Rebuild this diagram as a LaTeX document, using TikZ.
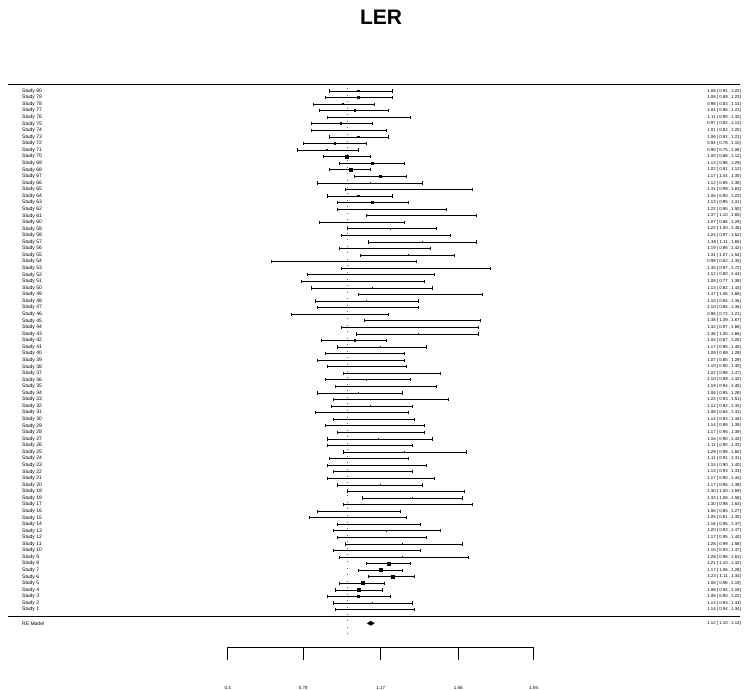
\documentclass[tikz,border=0pt]{standalone}
\usepackage{fontspec}
\setmainfont{Liberation Sans}
\begin{document}
\begin{tikzpicture}[x=1pt,y=-1pt]
\tikzset{
  lab/.style={font=\fontsize{5}{5}\selectfont, anchor=west, inner sep=0pt},
  ann/.style={font=\fontsize{4.3}{4.3}\selectfont, anchor=east, inner sep=0pt},
  tick/.style={font=\fontsize{4.5}{4.5}\selectfont, inner sep=0pt},
  whisk/.style={line width=0.8pt},
  rule/.style={line width=1pt},
  refline/.style={black!60, line width=0.7pt, dash pattern=on 0.7pt off 5.87pt}
}
\useasboundingbox (0,0) rectangle (744,690);
\node[font=\fontsize{21}{21}\selectfont\bfseries] (title) at (381,17.7) {LER};
% rules
\coordinate (tl) at (8,85);
\coordinate (tr) at (740,85);
\coordinate (bl) at (8,616.5);
\coordinate (br) at (740,616.5);
\draw[rule] (tl) -- (tr);
\draw[rule] (bl) -- (br);
% reference line at 1
\coordinate (rt) at (346.9,88);
\coordinate (rb) at (346.9,634);
\draw[refline] (rt) -- (rb);
\foreach \n/\vest/\vlo/\vhi in {
80/1.06/0.91/1.23, 79/1.06/0.89/1.23, 78/0.98/0.83/1.14, 77/1.04/0.86/1.21,
76/1.11/0.90/1.32, 75/0.97/0.82/1.13, 74/1.01/0.82/1.20, 73/1.06/0.91/1.21,
72/0.94/0.78/1.10, 71/0.90/0.75/1.06, 70/1.00/0.88/1.12, 69/1.13/0.96/1.29,
68/1.02/0.91/1.12, 67/1.17/1.04/1.30, 66/1.12/0.85/1.38, 65/1.31/0.99/1.63,
64/1.06/0.90/1.23, 63/1.13/0.95/1.31, 62/1.22/0.95/1.50, 61/1.37/1.10/1.65,
60/1.07/0.86/1.29, 59/1.22/1.00/1.45, 58/1.24/0.97/1.52, 57/1.38/1.11/1.65,
56/1.19/0.96/1.42, 55/1.31/1.07/1.54, 54/0.98/0.62/1.35, 53/1.35/0.97/1.72,
52/1.12/0.80/1.44, 51/1.08/0.77/1.39, 50/1.13/0.82/1.43, 49/1.37/1.06/1.68,
48/1.10/0.84/1.36, 47/1.10/0.85/1.36, 46/0.96/0.72/1.21, 45/1.38/1.09/1.67,
44/1.32/0.97/1.66, 43/1.36/1.05/1.66, 42/1.04/0.87/1.20, 41/1.17/0.95/1.40,
40/1.09/0.89/1.29, 39/1.07/0.85/1.29, 38/1.10/0.90/1.30, 37/1.22/0.98/1.47,
36/1.10/0.89/1.32, 35/1.19/0.94/1.45, 34/1.06/0.85/1.28, 33/1.22/0.93/1.51,
32/1.12/0.92/1.33, 31/1.08/0.84/1.31, 30/1.14/0.93/1.34, 29/1.14/0.89/1.39,
28/1.17/0.95/1.39, 27/1.16/0.90/1.43, 26/1.11/0.90/1.33, 25/1.29/0.98/1.60,
24/1.11/0.91/1.31, 23/1.15/0.90/1.40, 22/1.13/0.93/1.33, 21/1.17/0.90/1.44,
20/1.17/0.95/1.38, 19/1.30/1.00/1.59, 18/1.33/1.08/1.58, 17/1.30/0.98/1.63,
16/1.06/0.85/1.27, 15/1.05/0.81/1.30, 14/1.16/0.95/1.37, 13/1.20/0.93/1.47,
12/1.17/0.95/1.40, 11/1.28/0.99/1.58, 10/1.15/0.93/1.37, 9/1.28/0.96/1.61,
8/1.21/1.10/1.32, 7/1.17/1.06/1.28, 6/1.23/1.11/1.34, 5/1.08/0.96/1.19,
4/1.06/0.94/1.18, 3/1.06/0.90/1.22, 2/1.13/0.93/1.33, 1/1.14/0.94/1.34}{
  \pgfmathsetmacro\yy{91+(80-\n)*6.565}
  \pgfmathsetmacro\xe{227.7+(\vest-0.4)*198.7}
  \pgfmathsetmacro\xl{227.7+(\vlo-0.4)*198.7}
  \pgfmathsetmacro\xh{227.7+(\vhi-0.4)*198.7}
  \pgfmathsetmacro\hw{(\vhi-\vlo)/2}
  \pgfmathsetmacro\sz{ifthenelse(\hw<0.185, max(2.7,2.7+(0.15-\hw)*40), 1.3)}
  \node[lab] (s\n) at (22,\yy) {Study \n};
  \node[ann] (a\n) at (741,\yy) {\vest\ [ \vlo\ , \vhi]};
  \coordinate (l\n) at (\xl,\yy);
  \coordinate (h\n) at (\xh,\yy);
  \draw[whisk] (l\n) -- (h\n);
  \draw[whisk] ([yshift=-1.6pt]l\n) -- ([yshift=1.6pt]l\n);
  \draw[whisk] ([yshift=-1.6pt]h\n) -- ([yshift=1.6pt]h\n);
  \fill (\xe-\sz/2,\yy-\sz/2) rectangle (\xe+\sz/2,\yy+\sz/2);
}
% RE model
\node[lab] (re) at (22,623.3) {RE Model};
\node[ann] (rea) at (741,623.3) {1.12\ [ 1.10\ , 1.14]};
\fill (366.8,623.3) -- (370.7,620.9) -- (374.7,623.3) -- (370.7,625.7) -- cycle;
% axis
\draw[line width=0.9pt] (227.7,660) -- (227.7,647.3) -- (533.7,647.3) -- (533.7,660);
\foreach \v/\t in {0.78/0.78, 1.17/1.17, 1.56/1.56}{
  \draw[line width=0.9pt] ({227.7+(\v-0.4)*198.7},647.3) -- ({227.7+(\v-0.4)*198.7},660);
}
\foreach \v/\t in {0.4/0.4, 0.78/0.78, 1.17/1.17, 1.56/1.56, 1.94/1.94}{
  \node[tick] (t\t) at ({227.7+(\v-0.4)*198.7},688.3) {\t};
}
\end{tikzpicture}
\end{document}
